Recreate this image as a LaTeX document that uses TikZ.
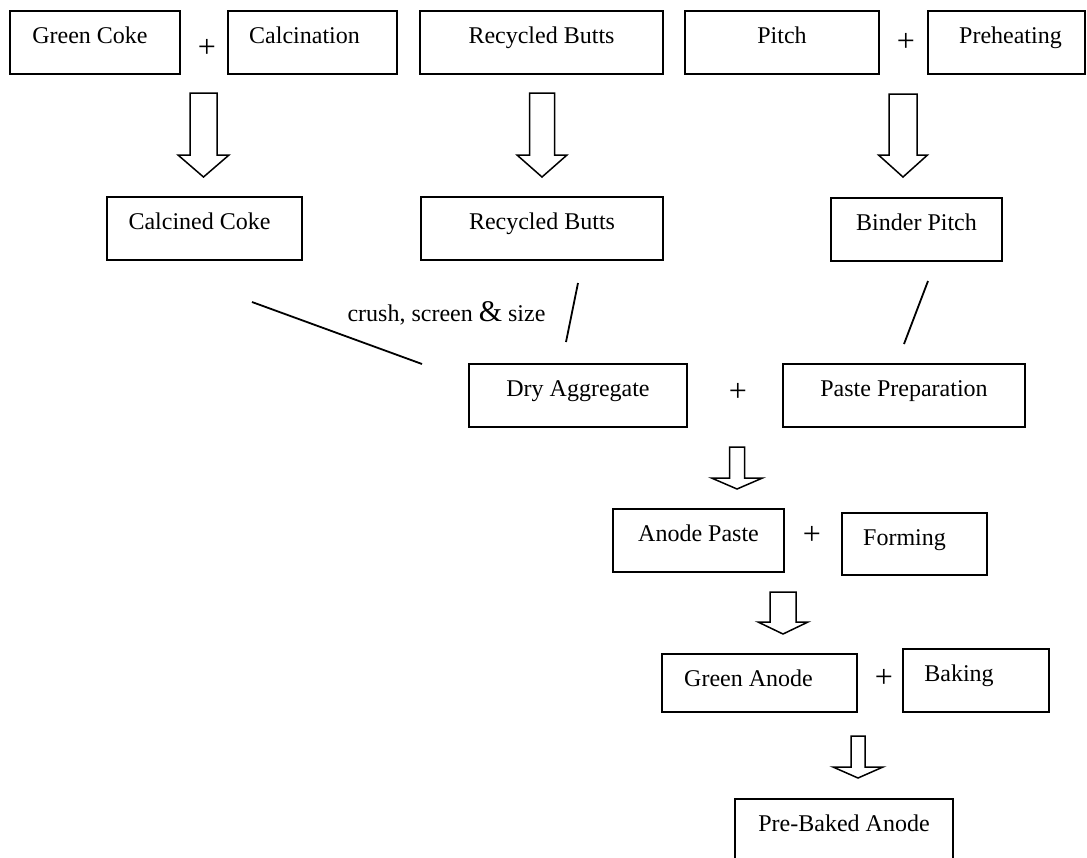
\documentclass[tikz,border=0pt]{standalone}
\usepackage{fontspec}
\setmainfont{Liberation Serif}
\usepackage{tikz}
\usetikzlibrary{positioning}
\tikzset{
    % Process Box
    node_box/.style = {draw=black, rectangle, line width=0.9pt, anchor=north west, inner xsep=0pt, inner ysep=0pt, outer sep=0pt, text height=16pt, text depth=15.5pt, font=\fontsize{12}{14}\selectfont},
    % Plus Sign
    node_plus/.style = {inner sep=0pt, font=\fontsize{16}{18}\selectfont},
    % Side Note
    node_note/.style = {inner sep=0pt, font=\fontsize{12}{14}\selectfont},
    % Block Arrow
    block_arrow/.style = {draw=black, line width=0.75pt, line join=miter},
    % Feed Line
    line_feed/.style = {draw=black, line width=0.9pt}
}
% hollow down arrow: centre x, top, neck, tip, half shaft, half head
\newcommand{\downblock}[6]{\draw[block_arrow] (#1-#5,#2) -- (#1+#5,#2) -- (#1+#5,#3) -- (#1+#6,#3) -- (#1,#4) -- (#1-#6,#3) -- (#1-#5,#3) -- cycle;}

\begin{document}
\begin{tikzpicture}[x=0.5pt, y=-0.5pt]
    \useasboundingbox (0,0) rectangle (1087,857);

    % raw materials
    \node[node_box, minimum width=85pt] (greencoke) at (10,11) {Green Coke\hspace*{5pt}};
    \node[node_plus] (plus_coke) at (207,48) {+};
    \node[node_box, minimum width=84.5pt] (calcination) at (228,11) {Calcination\hspace*{8pt}};
    \node[node_box, minimum width=121.5pt] (buttsin) at (420,11) {Recycled Butts};
    \node[node_box, minimum width=97pt] (pitch) at (685,11) {Pitch};
    \node[node_plus] (plus_pitch) at (906,42) {+};
    \node[node_box, minimum width=78.5pt] (preheating) at (928,11) {\hspace*{4pt}Preheating};

    \downblock{203.5}{93}{155}{177}{13.5}{25.5}
    \downblock{542}{93}{155}{177}{12.5}{25}
    \downblock{903}{94}{155}{177}{14}{24.5}

    % prepared materials
    \node[node_box, minimum width=97.5pt] (calcinedcoke) at (107,197) {Calcined Coke\hspace*{5pt}};
    \node[node_box, minimum width=121pt] (butts) at (421,197) {Recycled Butts};
    \node[node_box, minimum width=85.5pt] (binderpitch) at (831,198) {Binder Pitch};

    \coordinate (feed_coke_a) at (252,302);
    \coordinate (feed_coke_b) at (422,364);
    \coordinate (feed_butts_a) at (578,283);
    \coordinate (feed_butts_b) at (566,342);
    \coordinate (feed_pitch_a) at (928,281);
    \coordinate (feed_pitch_b) at (904,344);
    \draw[line_feed] (feed_coke_a) -- (feed_coke_b);
    \draw[line_feed] (feed_butts_a) -- (feed_butts_b);
    \draw[line_feed] (feed_pitch_a) -- (feed_pitch_b);
    \node[node_note, anchor=base] (crush) at (446.5,321) {crush, screen {\fontsize{15}{15}\selectfont\&} size};

    % paste
    \node[node_box, minimum width=109pt] (dryaggregate) at (469,364) {Dry Aggregate};
    \node[node_plus] (plus_paste) at (738,392) {+};
    \node[node_box, minimum width=121pt] (pasteprep) at (783,364) {Paste Preparation};

    \downblock{737}{447}{478}{489}{7.5}{25.5}

    \node[node_box, minimum width=85.5pt] (anodepaste) at (613,509) {Anode Paste};
    \node[node_plus] (plus_forming) at (812,535) {+};
    \node[node_box, minimum width=72.5pt, text depth=15pt] (forming) at (842,513) {Forming\hspace*{10pt}};

    \downblock{783}{592}{622}{634}{13}{25}

    % anodes
    \node[node_box, minimum width=97.5pt, text depth=13pt] (greenanode) at (662,654) {Green Anode\hspace*{11pt}};
    \node[node_plus] (plus_baking) at (884,678) {+};
    \node[node_box, minimum width=73pt] (baking) at (903,649) {Baking\hspace*{17pt}};

    \downblock{858}{736}{767}{778}{7}{25}

    \node[node_box, minimum width=109pt] (prebaked) at (735,799) {Pre-Baked Anode};
\end{tikzpicture}
\end{document}
